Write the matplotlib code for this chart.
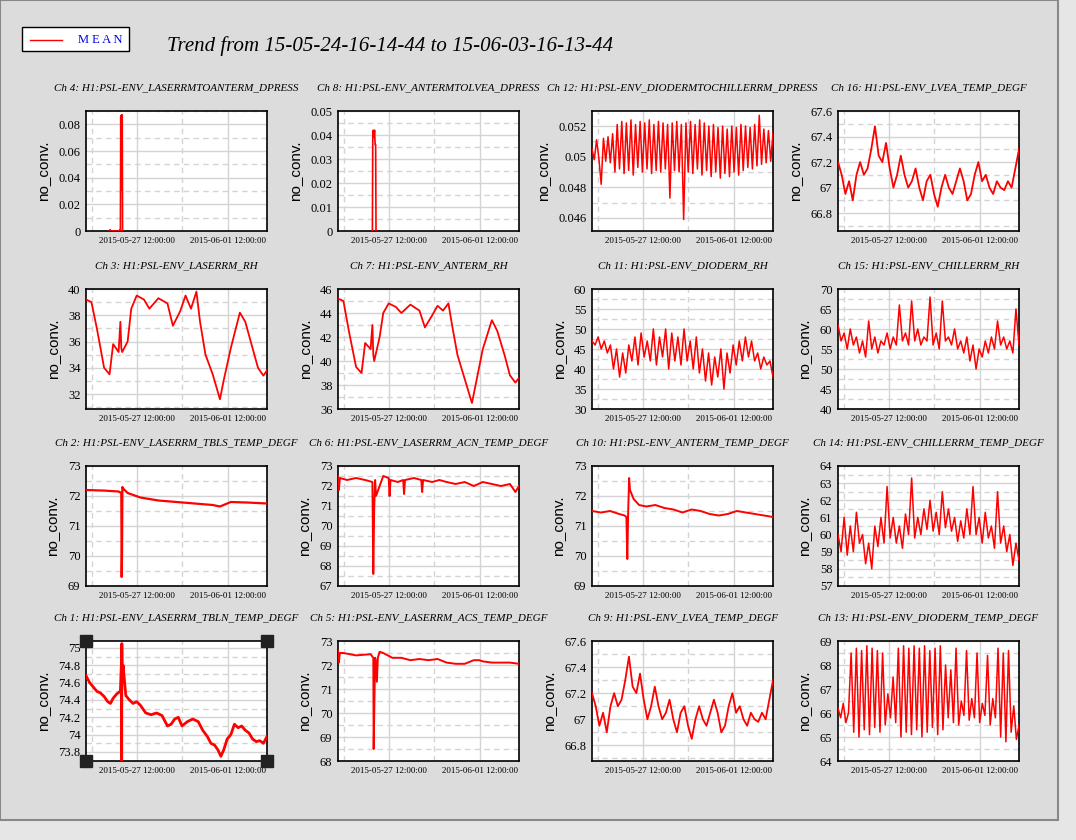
import numpy as np
import matplotlib
matplotlib.use("Agg")
import matplotlib.pyplot as plt
import matplotlib.dates as mdates
from matplotlib.ticker import FixedLocator, MultipleLocator, FormatStrFormatter
from matplotlib.patches import Rectangle
from datetime import datetime

title = "Trend from 15-05-24-16-14-44 to 15-06-03-16-13-44"
start = datetime(2015, 5, 24, 16, 14, 44)
major_ticks = [datetime(2015, 5, 27, 12), datetime(2015, 6, 1, 12)]
minor_ticks = [datetime(2015, 5, 25, 0), datetime(2015, 5, 30, 0)]

# ---- data (t in days since start, values) ----
ch4_t = [1.30, 1.33, 1.36, 1.85, 1.88, 1.90, 1.92, 1.94, 1.96, 1.98, 2.00, 2.02]
ch4_y = [0, 0.001, 0, 0, 0.001, 0, 0.086, 0.031, 0.087, 0.071, 0.087, 0]
ch8_t = [1.90, 1.92, 1.95, 1.98, 2.02, 2.05, 2.08, 2.10]
ch8_y = [0, 0.039, 0.042, 0.039, 0.042, 0.036, 0.036, 0]
ch12_y = [0.0505, 0.0498, 0.0511, 0.0499, 0.0482, 0.0512, 0.0497, 0.0513, 0.0496, 0.0515,
          0.0490, 0.0521, 0.0492, 0.0523, 0.0489, 0.0522, 0.0491, 0.0524, 0.0488, 0.0521,
          0.0493, 0.0523, 0.0490, 0.0522, 0.0492, 0.0524, 0.0489, 0.0521, 0.0491, 0.0523,
          0.0490, 0.0522, 0.0492, 0.0521,
          0.0473, 0.0522, 0.0491, 0.0523, 0.0490, 0.0521, 0.0459, 0.0522,
          0.0490, 0.0523, 0.0489, 0.0521, 0.0492, 0.0524, 0.0488, 0.0522, 0.0491, 0.0520,
          0.0487, 0.0521, 0.0490, 0.0519, 0.0486, 0.0520, 0.0489, 0.0518, 0.0487, 0.0520,
          0.0490, 0.0519, 0.0488, 0.0521, 0.0491, 0.0520, 0.0493, 0.0519, 0.0492, 0.0521,
          0.0494, 0.0527, 0.0495, 0.0518, 0.0496, 0.0517, 0.0497, 0.0516]
lvea_y = [67.2, 67.1, 66.95, 67.05, 66.9, 67.1, 67.2, 67.1, 67.15, 67.3,
          67.48, 67.25, 67.2, 67.35, 67.15, 67.0, 67.1, 67.25, 67.1, 67.0,
          67.05, 67.15, 67.0, 66.9, 67.05, 67.1, 66.95, 66.85, 67.0, 67.1,
          67.0, 66.95, 67.05, 67.15, 67.05, 66.9, 66.95, 67.1, 67.2, 67.05,
          67.1, 67.0, 66.95, 67.05, 67.0, 66.98, 67.05, 67.0, 67.15, 67.3]
rh_t = [0, 0.3, 0.6, 1.0, 1.3, 1.5, 1.8, 1.9, 1.95, 2.0, 2.3, 2.5, 2.8, 3.2, 3.5, 4.0, 4.5,
        4.8, 5.2, 5.5, 5.8, 6.1, 6.3, 6.6, 7.0, 7.4, 7.6, 8.0, 8.5, 8.8, 9.2, 9.5, 9.8, 10]
ch3_y = [39.2, 39.0, 37.0, 34.0, 33.5, 35.8, 35.2, 37.5, 35.5, 35.2, 36.0, 38.5, 39.5, 39.2,
         38.5, 39.3, 38.9, 37.2, 38.3, 39.5, 38.5, 39.8, 37.5, 35.0, 33.5, 31.6, 33.0, 35.5,
         38.2, 37.5, 35.5, 34.0, 33.4, 33.8]
ch7_y = [45.2, 45.0, 42.5, 39.5, 39.0, 41.5, 41.0, 43.0, 40.5, 40.0, 42.0, 44.0, 44.8, 44.5,
         44.0, 44.7, 44.2, 42.8, 43.8, 44.6, 44.2, 44.8, 43.0, 40.5, 38.5, 36.5, 38.0, 41.0,
         43.4, 42.5, 40.5, 38.8, 38.2, 38.6]
ch11_y = [47, 46, 48, 45, 47, 44, 46, 40, 45, 38, 44, 39, 46, 42, 48, 41, 49, 43, 47, 42,
          50, 41, 48, 43, 50, 40, 49, 42, 48, 41, 50, 42, 47, 40, 48, 39, 45, 37, 44, 36,
          43, 38, 45, 35, 44, 39, 46, 41, 47, 42, 48, 43, 47, 42, 44, 40, 43, 41, 42, 38]
ch15_y = [61, 57, 59, 55, 60, 56, 58, 54, 57, 53, 62, 55, 58, 54, 57, 56, 59, 55, 58, 56,
          66, 57, 59, 56, 67, 57, 60, 56, 58, 57, 68, 56, 59, 55, 67, 57, 58, 56, 60, 55,
          57, 54, 58, 52, 56, 50, 55, 53, 57, 54, 58, 55, 62, 56, 58, 55, 57, 54, 65, 56]
ch2_t = [0, 1.0, 1.8, 1.95, 1.97, 1.99, 2.01, 2.05, 2.3, 3.0, 4.0, 5.0, 6.0, 7.0, 7.4, 8.0, 9.0, 10]
ch2_y = [72.2, 72.18, 72.15, 72.1, 69.3, 70.1, 72.3, 72.25, 72.1, 71.95, 71.85, 71.8, 71.75,
         71.7, 71.65, 71.8, 71.78, 71.75]
ch6_t = [0, 0.05, 0.1, 0.5, 1.0, 1.5, 1.9, 1.95, 2.0, 2.05, 2.1, 2.5, 2.8, 2.85, 2.9, 3.3, 3.6,
         3.65, 3.7, 4.2, 4.6, 4.65, 4.7, 5.2, 5.6, 6.0, 6.5, 7.0, 7.5, 8.0, 8.5, 9.0, 9.5, 9.8, 10]
ch6_y = [72.5, 71.8, 72.4, 72.3, 72.4, 72.3, 72.2, 67.6, 70.9, 72.3, 71.5, 72.5, 72.4, 71.5,
         72.3, 72.2, 72.3, 71.6, 72.3, 72.4, 72.3, 71.7, 72.3, 72.2, 72.3, 72.2, 72.1, 72.2,
         72.0, 72.2, 72.1, 72.0, 72.1, 71.7, 72.0]
ch10_t = [0, 0.5, 1.0, 1.5, 1.8, 1.9, 1.95, 2.0, 2.05, 2.1, 2.3, 2.6, 3.0, 3.5, 4.0, 4.5, 5.0,
          5.5, 6.0, 6.5, 7.0, 7.5, 8.0, 8.5, 9.0, 9.5, 10]
ch10_y = [71.5, 71.45, 71.5, 71.4, 71.35, 71.3, 69.9, 71.5, 72.6, 72.2, 71.9, 71.7, 71.65,
          71.7, 71.6, 71.55, 71.45, 71.55, 71.5, 71.4, 71.35, 71.4, 71.5, 71.45, 71.4, 71.35, 71.3]
ch14_y = [60, 59, 61, 58.8, 60.5, 59, 61.3, 59.5, 60, 58.3, 59.5, 58, 60.5, 59.3, 61, 59.5,
          62.8, 59.8, 61, 59.5, 60.5, 59.2, 61.2, 60, 63.3, 59.8, 61, 60, 61.5, 60.3, 62, 60.2,
          61.3, 60, 62.5, 60.4, 61.5, 60.2, 61, 59.6, 60.8, 59.8, 61.5, 60, 62.8, 60, 61, 59.5,
          61.3, 59.8, 60.5, 59.2, 62.5, 59.5, 60.5, 59, 60, 58.2, 59.5, 58.5]
ch1_t = [0, 0.2, 0.4, 0.6, 0.8, 1.0, 1.2, 1.35, 1.5, 1.7, 1.9, 1.96, 1.97, 1.98, 2.0, 2.05,
         2.1, 2.2, 2.4, 2.6, 2.8, 3.0, 3.3, 3.6, 3.9, 4.2, 4.5, 4.7, 4.9, 5.1, 5.3, 5.6, 5.9,
         6.2, 6.45, 6.7, 6.9, 7.1, 7.3, 7.45, 7.6, 7.8, 8.0, 8.2, 8.4, 8.6, 8.8, 9.0, 9.2, 9.4,
         9.6, 9.8, 10]
ch1_y = [74.68, 74.6, 74.55, 74.5, 74.48, 74.44, 74.38, 74.36, 74.42, 74.47, 74.5, 74.85,
         73.7, 75.05, 74.6, 74.8, 74.68, 74.45, 74.4, 74.36, 74.38, 74.34, 74.25, 74.23, 74.25,
         74.22, 74.1, 74.12, 74.18, 74.2, 74.1, 74.15, 74.18, 74.15, 74.05, 73.98, 73.9, 73.88,
         73.82, 73.75, 73.82, 73.95, 74.0, 74.12, 74.08, 74.1, 74.05, 74.02, 73.95, 73.92,
         73.93, 73.9, 73.98]
ch5_t = [0, 0.05, 0.1, 0.3, 1.0, 1.8, 1.95, 1.97, 2.05, 2.08, 2.15, 2.2, 2.3, 2.5, 3.0, 3.5,
         4.0, 4.5, 5.0, 5.5, 6.0, 6.5, 7.0, 7.5, 7.8, 8.0, 8.5, 9.0, 9.5, 10]
ch5_y = [72.6, 72.1, 72.5, 72.5, 72.4, 72.45, 72.3, 68.5, 72.3, 72.2, 71.3, 72.3, 72.55,
         72.5, 72.3, 72.3, 72.2, 72.25, 72.2, 72.25, 72.1, 72.05, 72.05, 72.2, 72.2, 72.15,
         72.1, 72.1, 72.1, 72.05]
ch13_y = [66.2, 65.8, 66.4, 65.6, 66.0, 68.5, 65.2, 68.7, 65.0, 68.6, 65.3, 68.8, 65.1, 68.7,
          65.4, 68.6, 65.2, 68.5, 65.5, 66.8, 65.8, 67.5, 65.6, 68.7, 65.0, 68.8, 65.2, 68.7,
          65.1, 68.8, 65.3, 68.7, 65.0, 68.8, 65.2, 68.6, 65.4, 68.7, 65.1, 68.8, 65.3, 68.0,
          65.8, 67.8, 65.6, 68.7, 65.5, 66.5, 65.9, 68.6, 65.7, 66.6, 65.8, 68.5, 65.6, 66.4,
          65.9, 68.4, 65.5, 66.6, 65.8, 68.7, 65.0, 68.5, 64.8, 68.6, 65.2, 66.3, 64.9, 65.5]

def lin(y):
    return list(np.linspace(0, 10, len(y)))

# (title, t, y, ylim, major, minor, fmt, lw)
panels = [
    ["Ch 4: H1:PSL-ENV_LASERRMTOANTERM_DPRESS", ch4_t, ch4_y, (0, 0.09), 0.02, 0.01, "%g", 1.2],
    ["Ch 8: H1:PSL-ENV_ANTERMTOLVEA_DPRESS", ch8_t, ch8_y, (0, 0.05), 0.01, 0.005, "%g", 1.2],
    ["Ch 12: H1:PSL-ENV_DIODERMTOCHILLERRM_DPRESS", lin(ch12_y), ch12_y, (0.04515, 0.05298), 0.002, 0.001, "%g", 1.1],
    ["Ch 16: H1:PSL-ENV_LVEA_TEMP_DEGF", lin(lvea_y), lvea_y, (66.66, 67.6), 0.2, 0.1, "%g", 1.3],
    ["Ch 3: H1:PSL-ENV_LASERRM_RH", rh_t, ch3_y, (30.86, 40), 2, 1, "%g", 1.3],
    ["Ch 7: H1:PSL-ENV_ANTERM_RH", rh_t, ch7_y, (36, 46), 2, 1, "%g", 1.3],
    ["Ch 11: H1:PSL-ENV_DIODERM_RH", lin(ch11_y), ch11_y, (30, 60), 5, 2.5, "%g", 1.1],
    ["Ch 15: H1:PSL-ENV_CHILLERRM_RH", lin(ch15_y), ch15_y, (40, 70), 5, 2.5, "%g", 1.1],
    ["Ch 2: H1:PSL-ENV_LASERRM_TBLS_TEMP_DEGF", ch2_t, ch2_y, (69, 73), 1, 0.5, "%g", 1.6],
    ["Ch 6: H1:PSL-ENV_LASERRM_ACN_TEMP_DEGF", ch6_t, ch6_y, (67, 73), 1, 0.5, "%g", 1.4],
    ["Ch 10: H1:PSL-ENV_ANTERM_TEMP_DEGF", ch10_t, ch10_y, (69, 73), 1, 0.5, "%g", 1.4],
    ["Ch 14: H1:PSL-ENV_CHILLERRM_TEMP_DEGF", lin(ch14_y), ch14_y, (57, 64), 1, 0.5, "%g", 1.1],
    ["Ch 1: H1:PSL-ENV_LASERRM_TBLN_TEMP_DEGF", ch1_t, ch1_y, (73.696, 75.08), 0.2, 0.1, "%g", 2.0],
    ["Ch 5: H1:PSL-ENV_LASERRM_ACS_TEMP_DEGF", ch5_t, ch5_y, (68, 73), 1, 0.5, "%g", 1.4],
    ["Ch 9: H1:PSL-ENV_LVEA_TEMP_DEGF", lin(lvea_y), lvea_y, (66.68, 67.6), 0.2, 0.1, "%g", 1.3],
    ["Ch 13: H1:PSL-ENV_DIODERM_TEMP_DEGF", lin(ch13_y), ch13_y, (64, 69), 1, 0.5, "%g", 1.1],
]

W, H = 1076, 840
fig = plt.figure(figsize=(W / 100, H / 100), dpi=100)
fig.patch.set_facecolor("#e6e6e6")
fig.add_artist(Rectangle((0, 20 / H), 1058 / W, 1 - 20 / H, transform=fig.transFigure,
                         facecolor="#dcdcdc", edgecolor="#888888", lw=1.5, zorder=-10))

serif = ["Liberation Serif", "DejaVu Serif"]
fig.text(390 / W, 1 - 46 / H, title, fontsize=15, style="italic", family=serif, ha="center", va="center")
fig.add_artist(Rectangle((22 / W, 1 - 51 / H), 107 / W, 24 / H, transform=fig.transFigure,
                         facecolor="white", edgecolor="black", lw=1))
fig.add_artist(plt.Line2D([30 / W, 62 / W], [1 - 40 / H, 1 - 40 / H], transform=fig.transFigure,
                          color="red", lw=1))
fig.text(100 / W, 1 - 40 / H, "M E A N", fontsize=9, color="#0000dd", family=serif, ha="center", va="center")

t0 = mdates.date2num(start)
lefts = [86, 338, 592, 838]
tops = [111, 289, 466, 641]
aw, ah = 181, 120
for i, p in enumerate(panels):
    name, t, y, ylim, maj, mnr, fmt, lw = p
    r, c = divmod(i, 4)
    ax = fig.add_axes([lefts[c] / W, 1 - (tops[r] + ah) / H, aw / W, ah / H])
    ax.set_facecolor("white")
    x = t0 + np.asarray(t, dtype=float)
    ax.plot(x, y, color="red", lw=lw, zorder=3)
    ax.set_xlim(t0, t0 + 9.999)
    ax.set_ylim(*ylim)
    ax.xaxis.set_major_locator(FixedLocator(mdates.date2num(major_ticks)))
    ax.xaxis.set_minor_locator(FixedLocator(mdates.date2num(minor_ticks)))
    ax.xaxis.set_major_formatter(mdates.DateFormatter("%Y-%m-%d %H:%M:%S"))
    ax.yaxis.set_major_locator(MultipleLocator(maj))
    ax.yaxis.set_minor_locator(MultipleLocator(mnr))
    ax.yaxis.set_major_formatter(FormatStrFormatter(fmt))
    ax.grid(which="major", color="#d4d4d4", lw=1, ls="-")
    ax.grid(which="minor", color="#d4d4d4", lw=1, ls=(0, (4, 3)))
    ax.set_axisbelow(True)
    ax.tick_params(which="both", length=0)
    ax.tick_params(axis="x", labelsize=6.5, pad=4)
    ax.tick_params(axis="y", labelsize=9, pad=4)
    for lab in ax.get_xticklabels() + ax.get_yticklabels():
        lab.set_family(serif)
    for s in ax.spines.values():
        s.set_color("black")
        s.set_linewidth(1.2)
    ax.set_ylabel("no_conv.", fontsize=11, family=["Liberation Sans", "DejaVu Sans"], labelpad=6)
    ax.set_title(name, fontsize=8, style="italic", family=serif, pad=15)
    if i == 12:
        for (xx, yy) in [(0, 0), (0, 1), (1, 0), (1, 1)]:
            ax.plot([xx], [yy], marker="s", ms=8, color="#222222", transform=ax.transAxes,
                    clip_on=False, zorder=5)

fig.savefig("out.png", dpi=100, facecolor=fig.get_facecolor())
